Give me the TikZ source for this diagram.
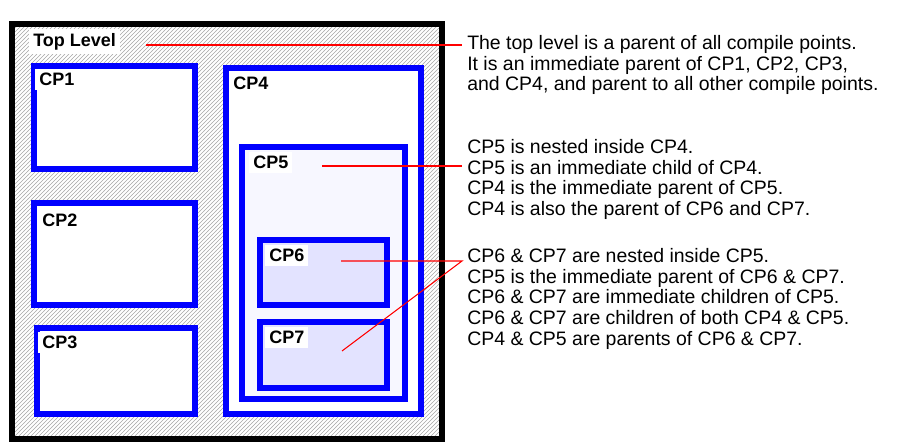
\documentclass[tikz,border=0pt]{standalone}
\usepackage{fontspec}
\setmainfont{Liberation Sans}
\usetikzlibrary{patterns}
\begin{document}
\begin{tikzpicture}[x=0.75pt,y=-0.75pt,
  cp/.style={draw=blue,line width=4pt},
  lab/.style={fill=white,font=\fontsize{13.5}{15}\selectfont\bfseries,inner sep=3pt,anchor=north west},
  ann/.style={font=\fontsize{14.6}{15.6}\selectfont,align=left,anchor=north west,inner sep=0pt},
  red/.style={draw=red,line width=0.8pt}]
\useasboundingbox (0,0) rectangle (919,443);
\draw[line width=3.8pt,pattern=north east lines,pattern color=gray!70] (12,24) rectangle (442,439);
\node[lab] (top) at (29,29) {Top Level};
\draw[cp,fill=white] (34,66) rectangle (195,169);
\node[lab] (cp1) at (35,69) {CP1};
\draw[cp,fill=white] (34,203) rectangle (195,305);
\node[lab] (cp2) at (38,210) {CP2};
\draw[cp,fill=white] (37,328) rectangle (195,414);
\node[lab] (cp3) at (38,332) {CP3};
\draw[cp,fill=white] (226,68) rectangle (421,414);
\node[lab] (cp4) at (229,73) {CP4};
\draw[cp,fill=blue!3] (242,147) rectangle (405,399);
\node[lab] (cp5) at (249,152) {CP5};
\draw[cp,fill=blue!11] (260,240) rectangle (387,305);
\node[lab] (cp6) at (265,245) {CP6};
\draw[cp,fill=blue!11] (260,322) rectangle (387,388);
\node[lab] (cp7) at (265,327) {CP7};
\coordinate (p0) at (146,45);
\coordinate (p5) at (322,166);
\coordinate (p6) at (341,261);
\coordinate (p7) at (342,351);
\coordinate (e0) at (462,45);
\coordinate (e5) at (462,166);
\coordinate (e6) at (462,261);
\draw[red] (p0) -- (e0);
\draw[red] (p5) -- (e5);
\draw[red] (p6) -- (e6) -- (p7);
\node[ann] (t0) at (467,35) {The top level is a parent of all compile points.\\It is an immediate parent of CP1, CP2, CP3,\\and CP4, and parent to all other compile points.};
\node[ann] (t5) at (467,139) {CP5 is nested inside CP4.\\CP5 is an immediate child of CP4.\\CP4 is the immediate parent of CP5.\\CP4 is also the parent of CP6 and CP7.};
\node[ann] (t6) at (467,248) {CP6 \& CP7 are nested inside CP5.\\CP5 is the immediate parent of CP6 \& CP7.\\CP6 \& CP7 are immediate children of CP5.\\CP6 \& CP7 are children of both CP4 \& CP5.\\CP4 \& CP5 are parents of CP6 \& CP7.};
\end{tikzpicture}
\end{document}
